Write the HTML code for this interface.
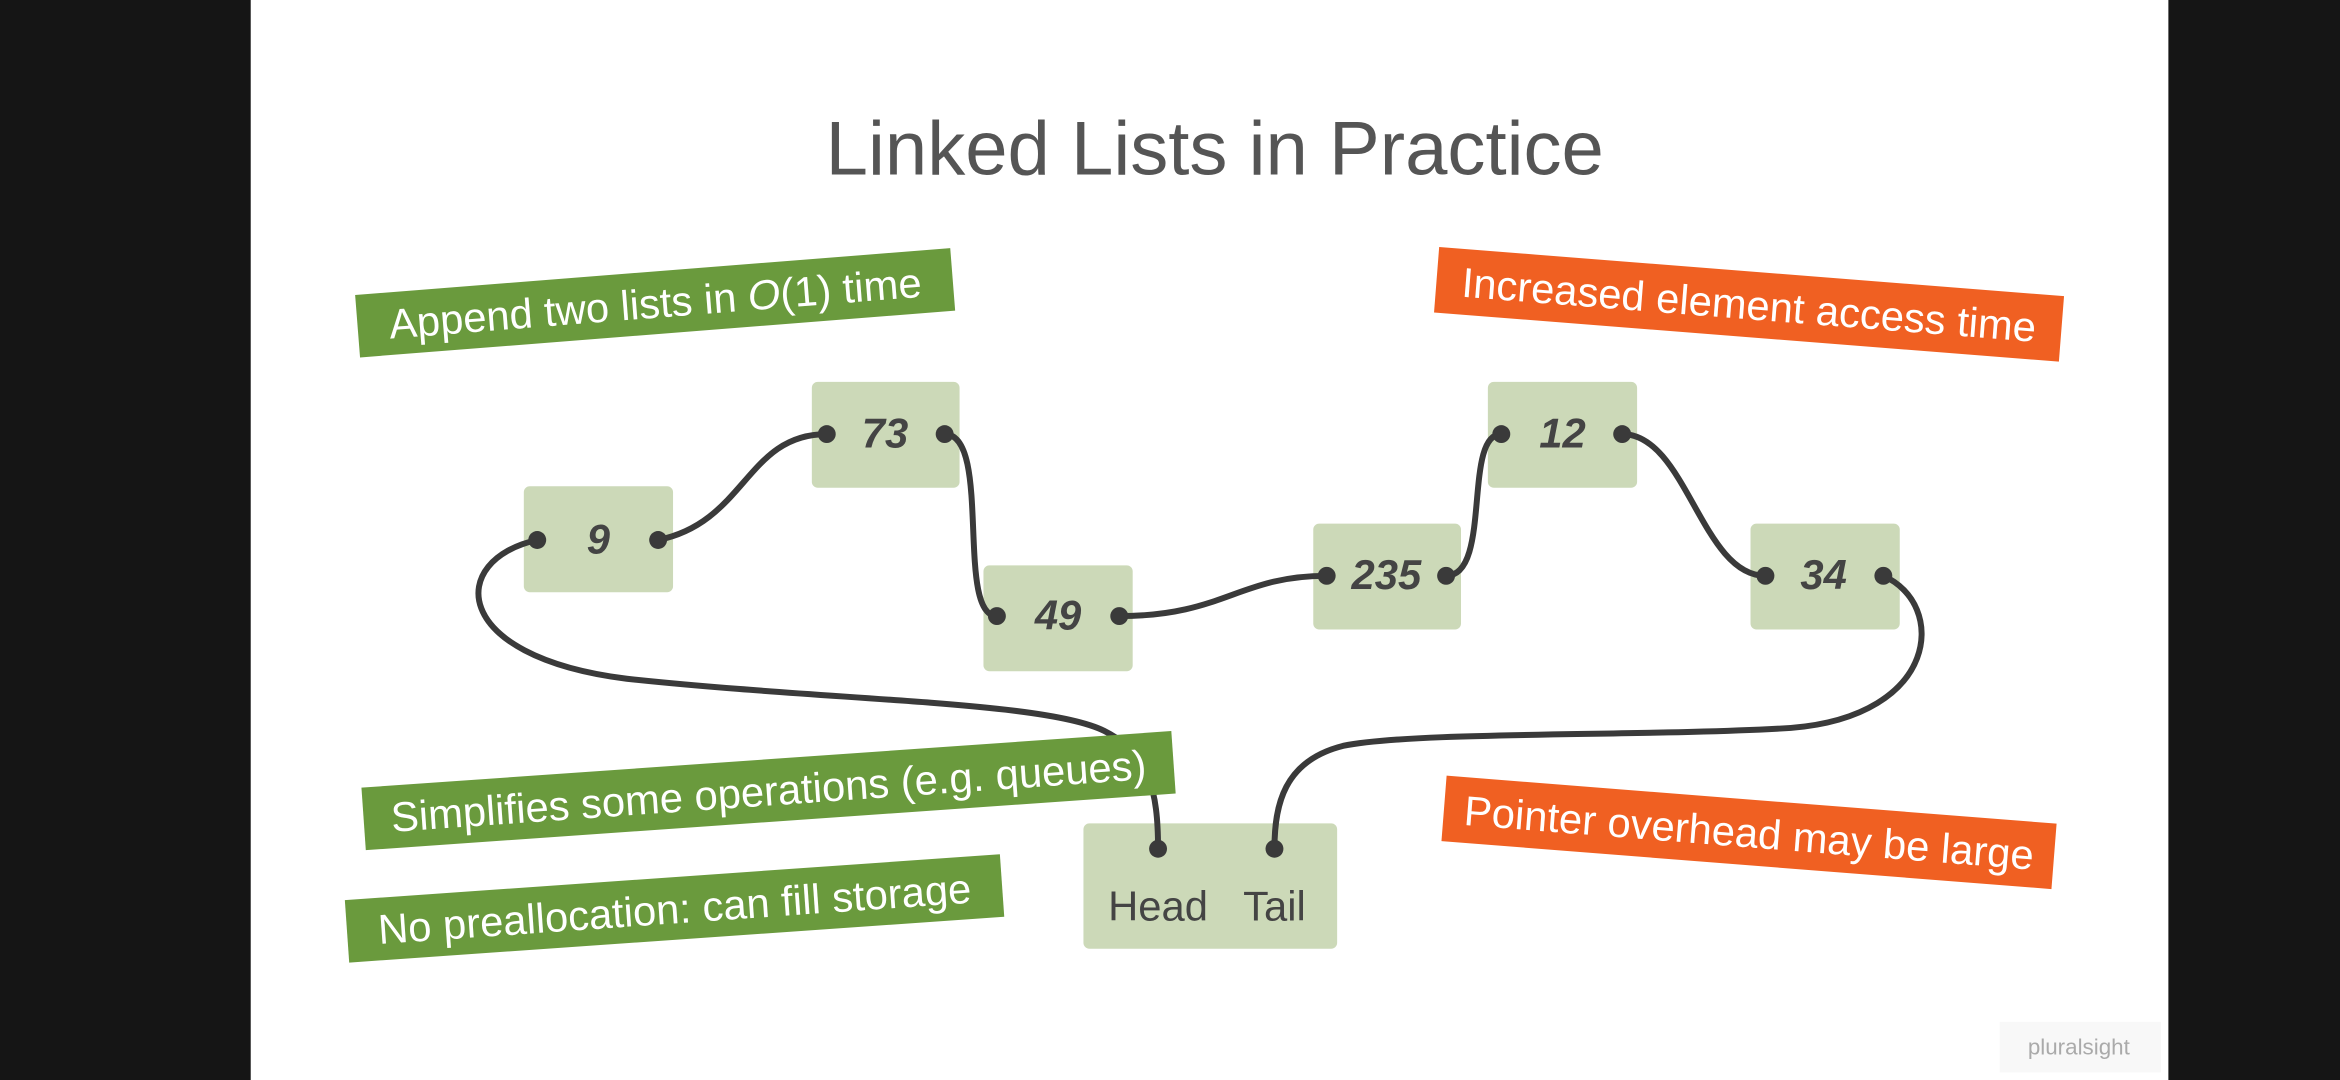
<!DOCTYPE html>
<html><head><meta charset="utf-8"><style>
html,body{margin:0;padding:0;width:2340px;height:1080px;overflow:hidden;background:#000}
svg{display:block}
</style></head><body>
<svg width="2340" height="1080" viewBox="0 0 1568 724" preserveAspectRatio="none" xmlns="http://www.w3.org/2000/svg" font-family="Liberation Sans, sans-serif">
<rect x="0" y="0" width="1568" height="724" fill="#151515"/>
<rect x="168" y="0" width="1285" height="724" fill="#ffffff"/>
<text x="814" y="117" text-anchor="middle" font-size="51" fill="#555">Linked Lists in Practice</text>

<!-- nodes -->
<g fill="#ccd9b8">
<rect x="351" y="326" width="100" height="71" rx="4"/>
<rect x="544" y="256" width="99" height="71" rx="4"/>
<rect x="659" y="379" width="100" height="71" rx="4"/>
<rect x="880" y="351" width="99" height="71" rx="4"/>
<rect x="997" y="256" width="100" height="71" rx="4"/>
<rect x="1173" y="351" width="100" height="71" rx="4"/>
<rect x="726" y="552" width="170" height="84" rx="4"/>
</g>
<g font-size="28" font-weight="bold" font-style="italic" fill="#444" text-anchor="middle">
<text x="401" y="371">9</text>
<text x="593" y="300">73</text>
<text x="709" y="422">49</text>
<text x="929" y="395">235</text>
<text x="1047" y="300">12</text>
<text x="1222" y="395">34</text>
</g>
<g font-size="28" fill="#444" text-anchor="middle">
<text x="776" y="617">Head</text>
<text x="854" y="617">Tail</text>
</g>

<!-- connectors -->
<g fill="none" stroke="#3a3a3a" stroke-width="4">
<path d="M441,362 C500,350 500,291 554,291"/>
<path d="M633,291 C665,291 640,413 668,413"/>
<path d="M750,413 C820,413 830,386 889,386"/>
<path d="M969,386 C1000,386 980,291 1006,291"/>
<path d="M1087,291 C1130,291 1140,386 1183,386"/>
<path d="M360,362 C300,375 300,440 420,455 C560,470 700,470 740,490 C770,505 776,530 776,569"/>
<path d="M1262,386 C1305,405 1300,480 1200,488 C1100,494 950,490 900,500 C860,510 854,540 854,569"/>
</g>
<g fill="#3a3a3a">
<circle cx="360" cy="362" r="6"/><circle cx="441" cy="362" r="6"/>
<circle cx="554" cy="291" r="6"/><circle cx="633" cy="291" r="6"/>
<circle cx="668" cy="413" r="6"/><circle cx="750" cy="413" r="6"/>
<circle cx="889" cy="386" r="6"/><circle cx="969" cy="386" r="6"/>
<circle cx="1006" cy="291" r="6"/><circle cx="1087" cy="291" r="6"/>
<circle cx="1183" cy="386" r="6"/><circle cx="1262" cy="386" r="6"/>
<circle cx="776" cy="569" r="6"/><circle cx="854" cy="569" r="6"/>
</g>

<!-- labels -->
<g transform="translate(439,203) rotate(-4.5)">
<rect x="-200" y="-21" width="400" height="42" fill="#6a9a3d"/>
<text x="0" y="10" text-anchor="middle" font-size="28" fill="#fff">Append two lists in <tspan font-style="italic">O</tspan>(1) time</text></g>
<g transform="translate(1172,204) rotate(4.5)">
<rect x="-210" y="-22" width="420" height="44" fill="#f06022"/>
<text x="0" y="10" text-anchor="middle" font-size="28" fill="#fff">Increased element access time</text></g>
<g transform="translate(515,530) rotate(-4)">
<rect x="-272" y="-21" width="544" height="42" fill="#6a9a3d"/>
<text x="0" y="10" text-anchor="middle" font-size="28" fill="#fff">Simplifies some operations (e.g. queues)</text></g>
<g transform="translate(452,609) rotate(-4)">
<rect x="-220" y="-21" width="440" height="42" fill="#6a9a3d"/>
<text x="0" y="10" text-anchor="middle" font-size="28" fill="#fff">No preallocation: can fill storage</text></g>
<g transform="translate(1172,558) rotate(4.5)">
<rect x="-205" y="-22" width="410" height="44" fill="#f06022"/>
<text x="0" y="10" text-anchor="middle" font-size="28" fill="#fff">Pointer overhead may be large</text></g>

<rect x="1340" y="685" width="108" height="34" fill="#f8f8f8"/>
<text x="1393" y="707" text-anchor="middle" font-size="15" fill="#aaa">pluralsight</text>
</svg>
</body></html>
